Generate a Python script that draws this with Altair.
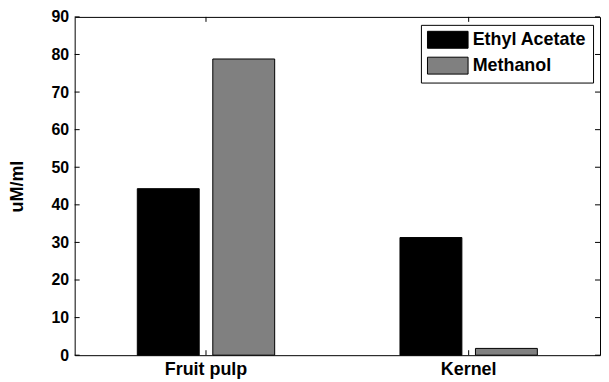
import altair as alt
import pandas as pd

categories = ["Fruit pulp", "Kernel"]
series = ["Ethyl Acetate", "Methanol"]
ethyl_acetate = [44.3, 31.3]
methanol = [78.8, 1.8]
y_ticks = [0, 10, 20, 30, 40, 50, 60, 70, 80, 90]
colors = ["#000000", "#808080"]

W, H = 528, 340
FONT = "Liberation Sans"

rows = []
for c, a, m in zip(categories, ethyl_acetate, methanol):
    rows.append({"category": c, "series": series[0], "value": a})
    rows.append({"category": c, "series": series[1], "value": m})
df = pd.DataFrame(rows)
ticks_df = pd.DataFrame({"value": y_ticks})
cat_df = pd.DataFrame({"category": categories})

xscale = alt.Scale(domain=categories, paddingInner=0, paddingOuter=0)
yscale = alt.Scale(domain=[0, 90], nice=False)

xaxis = alt.Axis(title=None, labelAngle=0, tickSize=0, domain=False,
                 labelFont=FONT, labelFontSize=18, labelFontWeight="bold",
                 labelColor="black", labelPadding=5)
yaxis = alt.Axis(title="uM/ml", values=y_ticks, tickSize=0, domain=False, grid=False,
                 labelOverlap=False, labelFlush=False,
                 labelFont=FONT, labelFontSize=16, labelFontWeight="bold",
                 labelColor="black", labelPadding=6,
                 titleFont=FONT, titleFontSize=18, titleFontWeight="bold",
                 titleColor="black", titlePadding=25)

bars = alt.Chart(df).mark_bar(stroke="black", strokeWidth=1).encode(
    x=alt.X("category:N", scale=xscale, sort=categories, axis=xaxis, title=None),
    xOffset=alt.XOffset("series:N", sort=series,
                        scale=alt.Scale(paddingInner=0.18, paddingOuter=0.83)),
    y=alt.Y("value:Q", scale=yscale, axis=yaxis, title="uM/ml"),
    color=alt.Color("series:N", sort=series,
                    scale=alt.Scale(domain=series, range=colors),
                    legend=alt.Legend(title=None, orient="none", legendX=348, legendY=8,
                                      strokeColor="black", fillColor="white", padding=6,
                                      symbolType="M-2.4,-1H2.4V1H-2.4Z", symbolSize=289,
                                      symbolStrokeColor="black", symbolStrokeWidth=1,
                                      symbolOffset=12, labelOffset=16,
                                      labelFont=FONT, labelFontSize=18, labelFontWeight="bold",
                                      labelColor="black", rowPadding=4)),
)

left_ticks = alt.Chart(ticks_df).mark_rule(color="black", strokeWidth=1).encode(
    y=alt.Y("value:Q", scale=yscale, axis=yaxis, title="uM/ml"), x=alt.value(0), x2=alt.value(5))
right_ticks = alt.Chart(ticks_df).mark_rule(color="black", strokeWidth=1).encode(
    y=alt.Y("value:Q", scale=yscale, axis=yaxis, title="uM/ml"), x=alt.value(W - 5), x2=alt.value(W))
bottom_ticks = alt.Chart(cat_df).mark_rule(color="black", strokeWidth=1).encode(
    x=alt.X("category:N", scale=xscale, sort=categories, axis=xaxis, title=None),
    y=alt.value(H - 5), y2=alt.value(H))
top_ticks = alt.Chart(cat_df).mark_rule(color="black", strokeWidth=1).encode(
    x=alt.X("category:N", scale=xscale, sort=categories, axis=xaxis, title=None),
    y=alt.value(0), y2=alt.value(5))

chart = alt.layer(bars, left_ticks, right_ticks, bottom_ticks, top_ticks).properties(
    width=W, height=H, padding=0, background="white"
).configure_view(stroke="black", strokeWidth=1)

chart.save("out.html", embed_options={"renderer": "svg", "actions": False})
